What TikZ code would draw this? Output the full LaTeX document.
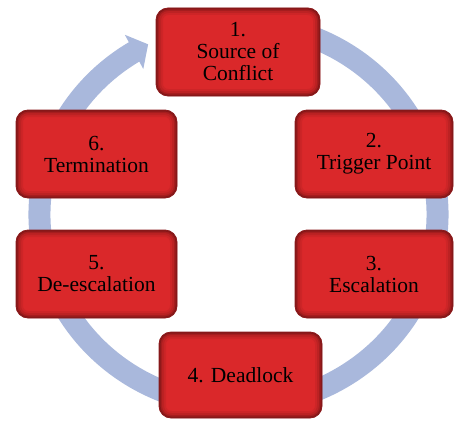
\documentclass[tikz,border=0pt]{standalone}
\usepackage{fontspec}
\setmainfont{Liberation Serif}
\newfontfamily\stagefont{Liberation Serif}
\usetikzlibrary{arrows.meta,bending}
\definecolor{ringblue}{RGB}{169,184,220}
\definecolor{boxred}{RGB}{218,40,42}
\definecolor{boxedge}{RGB}{140,26,28}
\begin{document}
\begin{tikzpicture}[x=1pt,y=-1pt,
  stagebox/.style={rounded corners=12pt, fill=boxred, draw=boxedge, line width=0.8pt,
    minimum width=162pt, minimum height=88pt, align=center, inner sep=0pt,
    font=\stagefont\fontsize{21.5}{22}\selectfont, text=black,
    path picture={
      \foreach \w/\o in {14/0.06,10/0.08,6/0.12,3/0.2}{
        \draw[line width=\w pt, draw=black, opacity=\o, rounded corners=12pt]
          (path picture bounding box.south west) rectangle (path picture bounding box.north east);
      }
    }},
  ring/.style={ringblue, line width=22pt, -{Triangle[length=16pt,width=38pt]}}]
\useasboundingbox (0,0) rectangle (454,420);
\draw[ring] (290,30) arc[start angle=-75, end angle=243, x radius=199, y radius=191];
\node[stagebox, minimum width=164pt] (s1) at (238,52) {1.\\Source of\\Conflict};
\node[stagebox, minimum width=158pt] (s2) at (374,154) {2.\\Trigger Point};
\node[stagebox, minimum width=158pt] (s3) at (374,274) {3.\\Escalation};
\node[stagebox, minimum width=163pt, minimum height=86pt] (s4) at (240.5,375) {4. Deadlock};
\node[stagebox, minimum width=161pt] (s5) at (96.5,274) {5.\\De-escalation};
\node[stagebox, minimum width=161pt] (s6) at (96.5,154) {6.\\Termination};
\end{tikzpicture}
\end{document}
